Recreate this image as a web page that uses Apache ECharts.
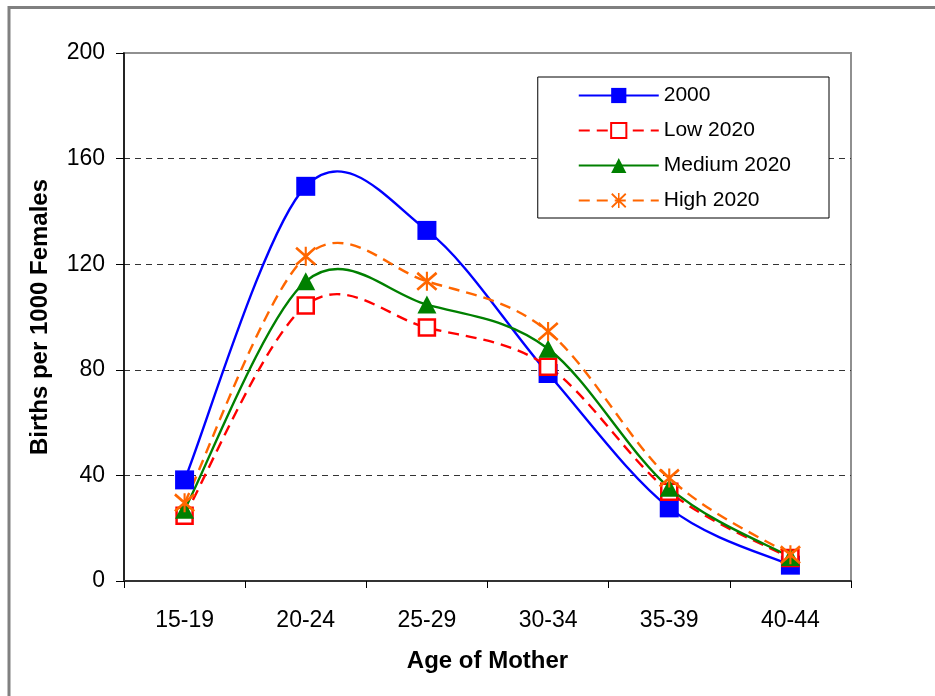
<!DOCTYPE html>
<html>
<head>
<meta charset="utf-8">
<script src="https://cdn.jsdelivr.net/npm/echarts@6/dist/echarts.min.js"></script>
<style>html,body{margin:0;padding:0;background:#fff;}#c{width:935px;height:696px;}</style>
</head>
<body>
<div id="c"></div>
<script>
const categories = ['15-19', '20-24', '25-29', '30-34', '35-39', '40-44'];
const s2000 = [38.3, 149.5, 132.8, 78.6, 27.7, 6.0];
const low2020 = [24.7, 104.4, 96.0, 81.2, 33.8, 8.7];
const medium2020 = [27.0, 113.5, 104.7, 88.0, 35.3, 9.1];
const high2020 = [29.6, 123.0, 113.5, 94.5, 39.0, 9.9];
const yTicks = [0, 40, 80, 120, 160, 200];

const FONT = 'Liberation Sans, Arial, sans-serif';
const star = 'path://M9 0 L11 0 L11 20 L9 20 Z M0 2.2 L1.6 0 L20 17.8 L18.4 20 Z M18.4 0 L20 2.2 L1.6 20 L0 17.8 Z';

// Smooth curve (Catmull-Rom style, like the spreadsheet's smoothed line) drawn through the chart's own scales
function curveSeries(name, arr, color, dash) {
  return {
    name: name, type: 'custom', z: 2, silent: true,
    data: arr.map(function (v, i) { return [i, v]; }),
    encode: {x: 0, y: 1},
    renderItem: function (params, api) {
      if (params.dataIndex !== 0) return null;
      const pts = arr.map(function (v, i) { return api.coord([i, v]); });
      const n = pts.length;
      let d = 'M' + pts[0][0] + ' ' + pts[0][1];
      for (let i = 0; i < n - 1; i++) {
        const p0 = pts[Math.max(i - 1, 0)], p1 = pts[i], p2 = pts[i + 1], p3 = pts[Math.min(i + 2, n - 1)];
        const c1x = p1[0] + (p2[0] - p0[0]) / 6, c1y = p1[1] + (p2[1] - p0[1]) / 6;
        const c2x = p2[0] - (p3[0] - p1[0]) / 6, c2y = p2[1] - (p3[1] - p1[1]) / 6;
        d += ' C' + c1x + ' ' + c1y + ' ' + c2x + ' ' + c2y + ' ' + p2[0] + ' ' + p2[1];
      }
      return {
        type: 'path', shape: {pathData: d},
        style: {fill: 'none', stroke: color, lineWidth: 2.4, lineDash: dash || null}
      };
    }
  };
}

function markerSeries(name, arr, symbol, size, itemStyle, lineStyle) {
  return {
    name: name, type: 'line', data: arr, z: 5,
    symbol: symbol, symbolSize: size, showSymbol: true,
    lineStyle: Object.assign({opacity: 0}, lineStyle),
    itemStyle: itemStyle
  };
}

const chart = echarts.init(document.getElementById('c'), null, {renderer: 'canvas'});
chart.setOption({
  animation: false,
  backgroundColor: '#fff',
  graphic: [{
    type: 'rect', shape: {x: 9, y: 7.5, width: 1200, height: 1200},
    style: {fill: 'none', stroke: '#808080', lineWidth: 3}, z: 100
  }],
  grid: {left: 124, right: 84, top: 53, bottom: 115, show: true, borderColor: '#909090', borderWidth: 2, backgroundColor: 'transparent'},
  legend: {
    right: 106, top: 77, orient: 'vertical',
    backgroundColor: '#fff', borderColor: '#000', borderWidth: 1,
    padding: [8, 38, 7, 40],
    itemWidth: 80, itemHeight: 19, itemGap: 14,
    textStyle: {fontFamily: FONT, fontSize: 21, color: '#000'},
    data: [
      {name: '2000', lineStyle: {opacity: 1}},
      {name: 'Low 2020', lineStyle: {opacity: 1}},
      {name: 'Medium 2020', lineStyle: {opacity: 1}},
      {name: 'High 2020', lineStyle: {opacity: 1}}
    ]
  },
  xAxis: {
    type: 'category', data: categories, boundaryGap: true,
    name: 'Age of Mother', nameLocation: 'middle', nameGap: 68,
    nameTextStyle: {fontFamily: FONT, fontSize: 24, fontWeight: 'bold', color: '#000'},
    axisLine: {lineStyle: {color: '#333', width: 2}},
    axisTick: {show: true, length: 7, lineStyle: {color: '#000', width: 1}},
    axisLabel: {fontFamily: FONT, fontSize: 23, color: '#000', margin: 28}
  },
  yAxis: {
    type: 'value', min: yTicks[0], max: yTicks[yTicks.length - 1], interval: 40,
    name: 'Births per 1000 Females', nameLocation: 'middle', nameGap: 72, nameRotate: 90,
    nameTextStyle: {fontFamily: FONT, fontSize: 24, fontWeight: 'bold', color: '#000'},
    axisLine: {show: true, lineStyle: {color: '#000', width: 1.5}},
    axisTick: {show: true, length: 8, lineStyle: {color: '#000'}},
    axisLabel: {fontFamily: FONT, fontSize: 23, color: '#000', margin: 19},
    splitLine: {show: true, showMinLine: false, showMaxLine: false, lineStyle: {color: '#333', type: [6, 5], width: 1}}
  },
  series: [
    markerSeries('2000', s2000, 'rect', 19,
      {color: '#0000FF', borderWidth: 0},
      {color: '#0000FF', width: 2.4}),
    markerSeries('Low 2020', low2020, 'rect', 16,
      {color: '#FFFFFF', borderColor: '#FF0000', borderWidth: 2.5},
      {color: '#FF0000', width: 2.4, type: [11, 7]}),
    markerSeries('Medium 2020', medium2020, 'triangle', [19, 18],
      {color: '#008000', borderWidth: 0},
      {color: '#008000', width: 2.4}),
    markerSeries('High 2020', high2020, star, [21, 19],
      {color: '#FF6600', borderWidth: 0},
      {color: '#FF6600', width: 2.4, type: [11, 7]}),
    curveSeries('2000', s2000, '#0000FF', null),
    curveSeries('Low 2020', low2020, '#FF0000', [11, 7]),
    curveSeries('Medium 2020', medium2020, '#008000', null),
    curveSeries('High 2020', high2020, '#FF6600', [11, 7])
  ]
});
</script>
</body>
</html>
